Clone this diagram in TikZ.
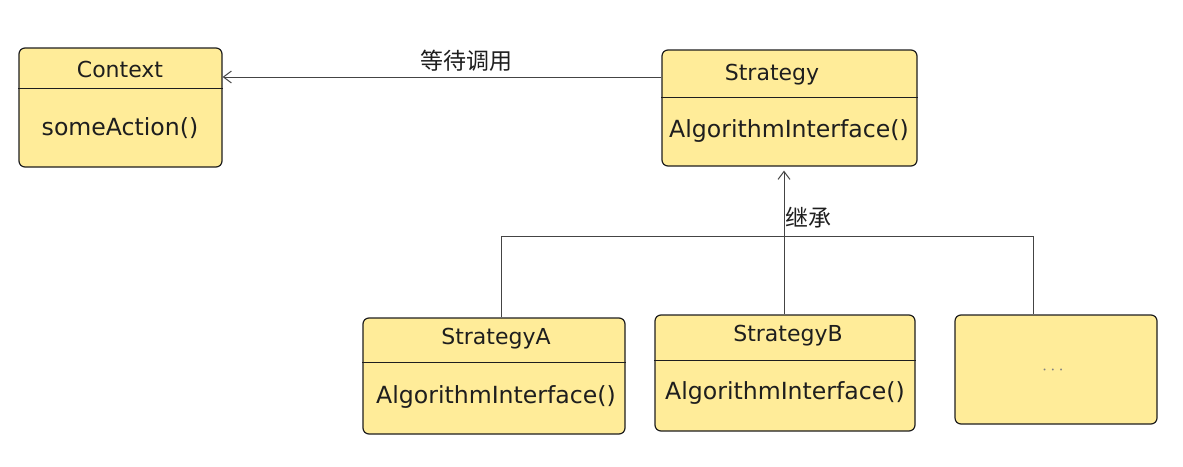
\documentclass[tikz,border=0pt]{standalone}
\usepackage{fontspec}
\setmainfont{DejaVu Sans}
\newfontfamily\cjk{Noto Sans CJK SC}
\usepackage{xcolor}
\usepackage{tikz}
\usetikzlibrary{calc}
\usetikzlibrary{positioning}
\usetikzlibrary{arrows.meta}
\definecolor{boxfill}{HTML}{FFEC99}
\definecolor{ink}{HTML}{1E1E1E}
\definecolor{wire}{HTML}{444444}
\tikzset{
	classbox/.style={draw=ink,fill=boxfill,line width=0.6pt,rounded corners=3pt,inner sep=0pt},
	divider/.style={draw=ink,line width=0.5pt},
	wireline/.style={draw=wire,line width=0.5pt},
	wirearrow/.style={wireline,-{Straight Barb[length=4pt,width=6pt]}},
	classtext/.style={font=\fontsize{11}{13}\selectfont,text=ink},
	methodtext/.style={font=\fontsize{11.8}{14}\selectfont,text=ink},
	cjklabel/.style={font=\cjk\fontsize{11.5}{13}\selectfont,text=ink}
}

\begin{document}
\begin{tikzpicture}[x=0.5pt,y=-0.5pt]
	\useasboundingbox (0,0) rectangle (1183,466);
	% boxes
	\node[classbox,minimum width=101.5pt,minimum height=59.5pt] (ctx) at (120.5,107.5) {};
	\node[classbox,minimum width=127.5pt,minimum height=58pt] (strat) at (789.5,108) {};
	\node[classbox,minimum width=131pt,minimum height=58pt] (stratA) at (494,376) {};
	\node[classbox,minimum width=130pt,minimum height=58pt] (stratB) at (785,373) {};
	\node[classbox,minimum width=101pt,minimum height=54.5pt] (more) at (1056,369.5) {};
	% dividers
	\draw[divider] (ctx.west |- 0,88) -- (ctx.east |- 0,88);
	\draw[divider] (strat.west |- 0,97) -- (strat.east |- 0,97);
	\draw[divider] (stratA.west |- 0,362) -- (stratA.east |- 0,362);
	\draw[divider] (stratB.west |- 0,360) -- (stratB.east |- 0,360);
	% texts
	\node[classtext] (ctxT) at (120,69) {Context};
	\node[methodtext] (ctxM) at (120,128) {someAction()};
	\node[classtext] (stratT) at (772,75) {Strategy};
	\node[methodtext] (stratM) at (789,131) {AlgorithmInterface()};
	\node[classtext] (stratAT) at (496,339) {StrategyA};
	\node[methodtext] (stratAM) at (496,397) {AlgorithmInterface()};
	\node[classtext] (stratBT) at (788,336) {StrategyB};
	\node[methodtext] (stratBM) at (785,393) {AlgorithmInterface()};
	\node[font=\fontsize{9}{10}\selectfont,text=gray] (moreT) at (1053,370) {$\cdots$};
	% connectors
	\draw[wirearrow] (strat.west |- 0,77) -- (ctx.east |- 0,77);
	\node[cjklabel] (callLbl) at (466,61) {等待调用};
	\coordinate (busL) at (501,236);
	\coordinate (busR) at (1033,236);
	\draw[wireline] (stratA.north -| busL) -- (busL) -- (busR) -- (more.north -| busR);
	\draw[wirearrow] (stratB.north -| 784,0) -- ($(strat.south -| 784,0)+(0,4)$);
	\node[cjklabel] (inhLbl) at (808,218) {继承};
\end{tikzpicture}
\end{document}
